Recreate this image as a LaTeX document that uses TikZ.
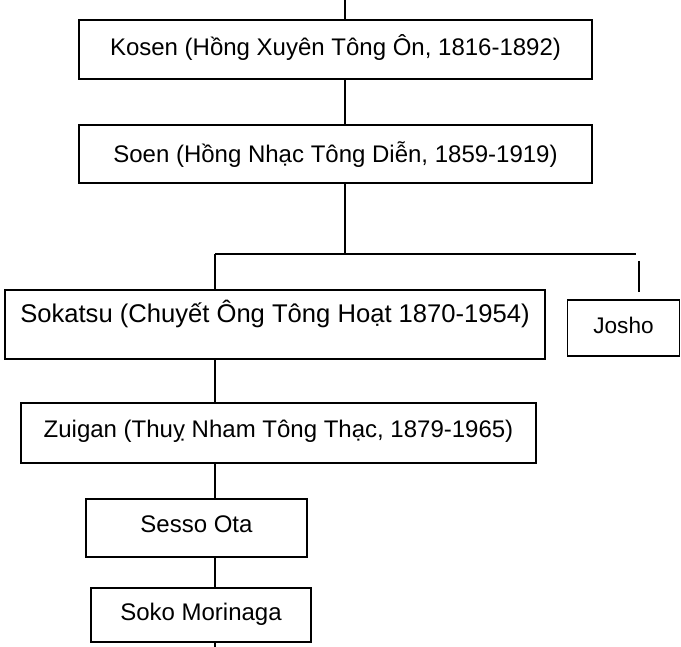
\documentclass[tikz,border=0pt]{standalone}
\usepackage{fontspec}
\setmainfont{Liberation Sans}
\begin{document}
\begin{tikzpicture}[x=1pt,y=-1pt,
  box/.style={draw=black, line width=1.6pt, fill=white, inner sep=0pt, align=center,
    font=\fontsize{24}{28}\selectfont},
  conn/.style={draw=black, line width=1.3pt}]
\useasboundingbox (0,0) rectangle (681,647);
% boxes: center, width, height, text height (top->baseline), text depth
\node[box, minimum width=513, minimum height=59, text height=36, text depth=23] (kosen) at (335.5,49.5) {Kosen (Hồng Xuyên Tông Ôn, 1816-1892)};
\node[box, minimum width=513, minimum height=58, text height=38, text depth=20] (soen) at (335.5,154) {Soen (Hồng Nhạc Tông Diễn, 1859-1919)};
\node[box, minimum width=540, minimum height=69, text height=32.5, text depth=36.5, font=\fontsize{25.6}{30}\selectfont] (sokatsu) at (275,324.5) {Sokatsu (Chuyết Ông Tông Hoạt 1870-1954)};
\node[box, minimum width=112, minimum height=56, text height=34, text depth=22, font=\fontsize{22.6}{27}\selectfont] (josho) at (623.5,328) {Josho};
\node[box, minimum width=515, minimum height=60, text height=34.5, text depth=25.5] (zuigan) at (278.5,433) {Zuigan (Thuỵ Nham Tông Thạc, 1879-1965)};
\node[box, minimum width=221, minimum height=58, text height=33.5, text depth=24.5] (sesso) at (196.5,528) {Sesso Ota};
\node[box, minimum width=220, minimum height=54, text height=32.5, text depth=21.5] (soko) at (201,615) {Soko Morinaga};
% free ends
\coordinate (topend) at (345,0);
\coordinate (barL) at (215,254);
\coordinate (barR) at (636,254);
\coordinate (barM) at (345,254);
\coordinate (jt) at (639,261);
\coordinate (jb) at (639,292);
\coordinate (botend) at (215,647);
% connectors
\draw[conn] (topend) -- (topend |- kosen.north);
\draw[conn] (kosen.south -| topend) -- (soen.north -| topend);
\draw[conn] (soen.south -| topend) -- (barM);
\draw[conn] (barL) -- (barR);
\draw[conn] (barL) -- (barL |- sokatsu.north);
\draw[conn] (jt) -- (jb);
\draw[conn] (sokatsu.south -| barL) -- (zuigan.north -| barL);
\draw[conn] (zuigan.south -| barL) -- (sesso.north -| barL);
\draw[conn] (sesso.south -| barL) -- (soko.north -| barL);
\draw[conn] (soko.south -| barL) -- (botend);
\end{tikzpicture}
\end{document}
